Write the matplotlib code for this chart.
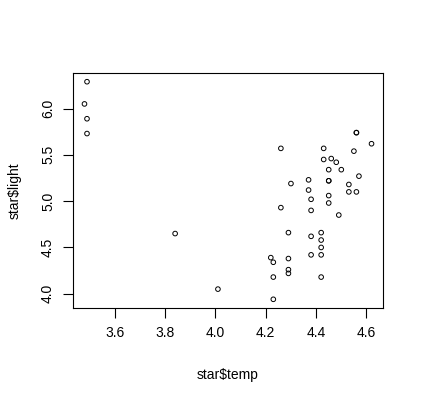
import matplotlib
matplotlib.use("Agg")
import matplotlib.pyplot as plt

# log temperature / log light intensity of the 47 stars (CYG OB1)
temp = [4.37, 4.56, 4.26, 4.56, 4.30, 4.46, 3.84, 4.57, 4.26, 4.37,
        3.49, 4.43, 4.48, 4.01, 4.29, 4.42, 4.23, 4.42, 4.23, 3.49,
        4.29, 4.29, 4.42, 4.49, 4.38, 4.42, 4.29, 4.38, 4.22, 3.48,
        4.38, 4.56, 4.45, 3.49, 4.23, 4.62, 4.53, 4.45, 4.53, 4.43,
        4.38, 4.45, 4.50, 4.45, 4.55, 4.45, 4.42]
light = [5.23, 5.74, 4.93, 5.74, 5.19, 5.46, 4.65, 5.27, 5.57, 5.12,
         5.73, 5.45, 5.42, 4.05, 4.26, 4.58, 3.94, 4.18, 4.18, 5.89,
         4.38, 4.22, 4.42, 4.85, 5.02, 4.66, 4.66, 4.90, 4.39, 6.05,
         4.42, 5.10, 5.22, 6.29, 4.34, 5.62, 5.10, 5.22, 5.18, 5.57,
         4.62, 5.06, 5.34, 5.34, 5.54, 4.98, 4.50]
xticks = [3.6, 3.8, 4.0, 4.2, 4.4, 4.6]
yticks = [4.0, 4.5, 5.0, 5.5, 6.0]

plt.rcParams['font.family'] = ['Liberation Sans', 'DejaVu Sans']

fig = plt.figure(figsize=(4.21, 4.0), dpi=100)
ax = fig.add_axes([73/421, 1-308/400, 310/421, 235/400])
ax.scatter(temp, light, s=11, facecolors='none', edgecolors='black', linewidths=0.7)

# R style 4% padding
xr = max(temp) - min(temp)
yr = max(light) - min(light)
ax.set_xlim(min(temp) - 0.04*xr, max(temp) + 0.04*xr)
ax.set_ylim(min(light) - 0.04*yr, max(light) + 0.04*yr)

ax.set_xticks(xticks)
ax.set_xticklabels(['%.1f' % v for v in xticks])
ax.set_yticks(yticks)
ax.set_yticklabels(['%.1f' % v for v in yticks], rotation=90, va='center')
ax.tick_params(direction='out', length=7, width=0.8, labelsize=10, pad=6)
for s in ax.spines.values():
    s.set_linewidth(0.8)

ax.set_xlabel(r'star\$temp', fontsize=10, labelpad=20)
ax.set_ylabel(r'star\$light', fontsize=10, labelpad=14)

fig.savefig('out.png', dpi=100)
